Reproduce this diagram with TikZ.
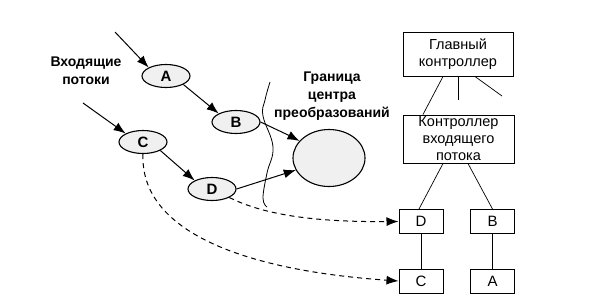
\documentclass[tikz,border=0pt]{standalone}
\usepackage{fontspec}
\setmainfont{Liberation Sans}
\usetikzlibrary{arrows.meta,shapes.geometric}
\begin{document}
\begin{tikzpicture}[x=1pt,y=-1pt,
  tip/.style={-{Latex[length=12pt,width=9pt]}},
  flow/.style={ellipse,draw,line width=1.1pt,fill=gray!12,minimum width=48pt,minimum height=23pt,inner sep=0pt,font=\bfseries\fontsize{15}{15}\selectfont},
  ctrl/.style={draw,line width=1pt,fill=white,align=center,inner sep=0pt,font=\fontsize{14.5}{17}\selectfont},
  item/.style={draw,line width=1pt,fill=white,minimum width=44pt,minimum height=24pt,inner sep=0pt,font=\fontsize{15}{15}\selectfont},
  lbl/.style={align=center,font=\bfseries\fontsize{14}{18}\selectfont},
  conn/.style={line width=0.7pt},
  arr/.style={line width=1pt,tip},
  dsh/.style={line width=1pt,dashed,dash pattern=on 5pt off 4pt,tip}]
\useasboundingbox (0,0) rectangle (597,306);

% flows
\node[flow] (A) at (166,76) {A};
\node[flow] (B) at (236,122) {B};
\node[flow] (C) at (143,142) {C};
\node[flow] (D) at (212,189) {D};
\node[ellipse,draw,line width=1.1pt,fill=gray!12,minimum width=72pt,minimum height=57pt] (P) at (329,158) {};

% labels
\node[lbl] (L1) at (86,71) {Входящие\\потоки};
\node[lbl] (L2) at (332,96) {Граница\\центра\\преобразований};

% boundary
\draw[line width=0.8pt] plot[smooth,tension=0.7] coordinates {(270,82) (265,100) (263,116) (273,147) (267,173) (263,198) (267,207)};

% incoming
\coordinate (inA) at (115,32);
\coordinate (inC) at (83,103);
\draw[arr] (inA) -- (A.north west);
\draw[arr] (inC) -- (C.north west);
\draw[arr] (A.south east) -- (B.north west);
\draw[arr] (C.south east) -- (D.north west);
\draw[arr] (B.east) .. controls (275,128) .. (P.150);
\draw[arr] (D.east) -- (P.200);

% controllers
\node[ctrl,minimum width=110pt,minimum height=44pt] (M) at (458,54) {Главный\\контроллер};
\node[ctrl,minimum width=111pt,minimum height=48pt] (K) at (458.5,139) {Контроллер\\входящего\\потока};
\node[item] (bD) at (421,221.5) {D};
\node[item] (bB) at (492.5,221.5) {B};
\node[item] (bC) at (421,281) {C};
\node[item] (bA) at (492.5,281) {A};

\coordinate (s1) at (458,100);
\coordinate (s2) at (502,96);
\draw[conn] (M.south -| 443,0) -- (K.north -| 423,0);
\draw[conn] (M.south) -- (s1);
\draw[conn] (M.south -| 475,0) -- (s2);
\draw[conn] (K.south -| 443,0) -- (bD.north -| 419,0);
\draw[conn] (K.south -| 468,0) -- (bB.north);
\draw[conn] (bD) -- (bC);
\draw[conn] (bB) -- (bA);

% dashed
\draw[dsh] (C.south) .. controls (140,230) and (240,270) .. (bC.west);
\draw[dsh] (D.south east) .. controls (270,218) and (330,222) .. (bD.west);
\end{tikzpicture}
\end{document}
